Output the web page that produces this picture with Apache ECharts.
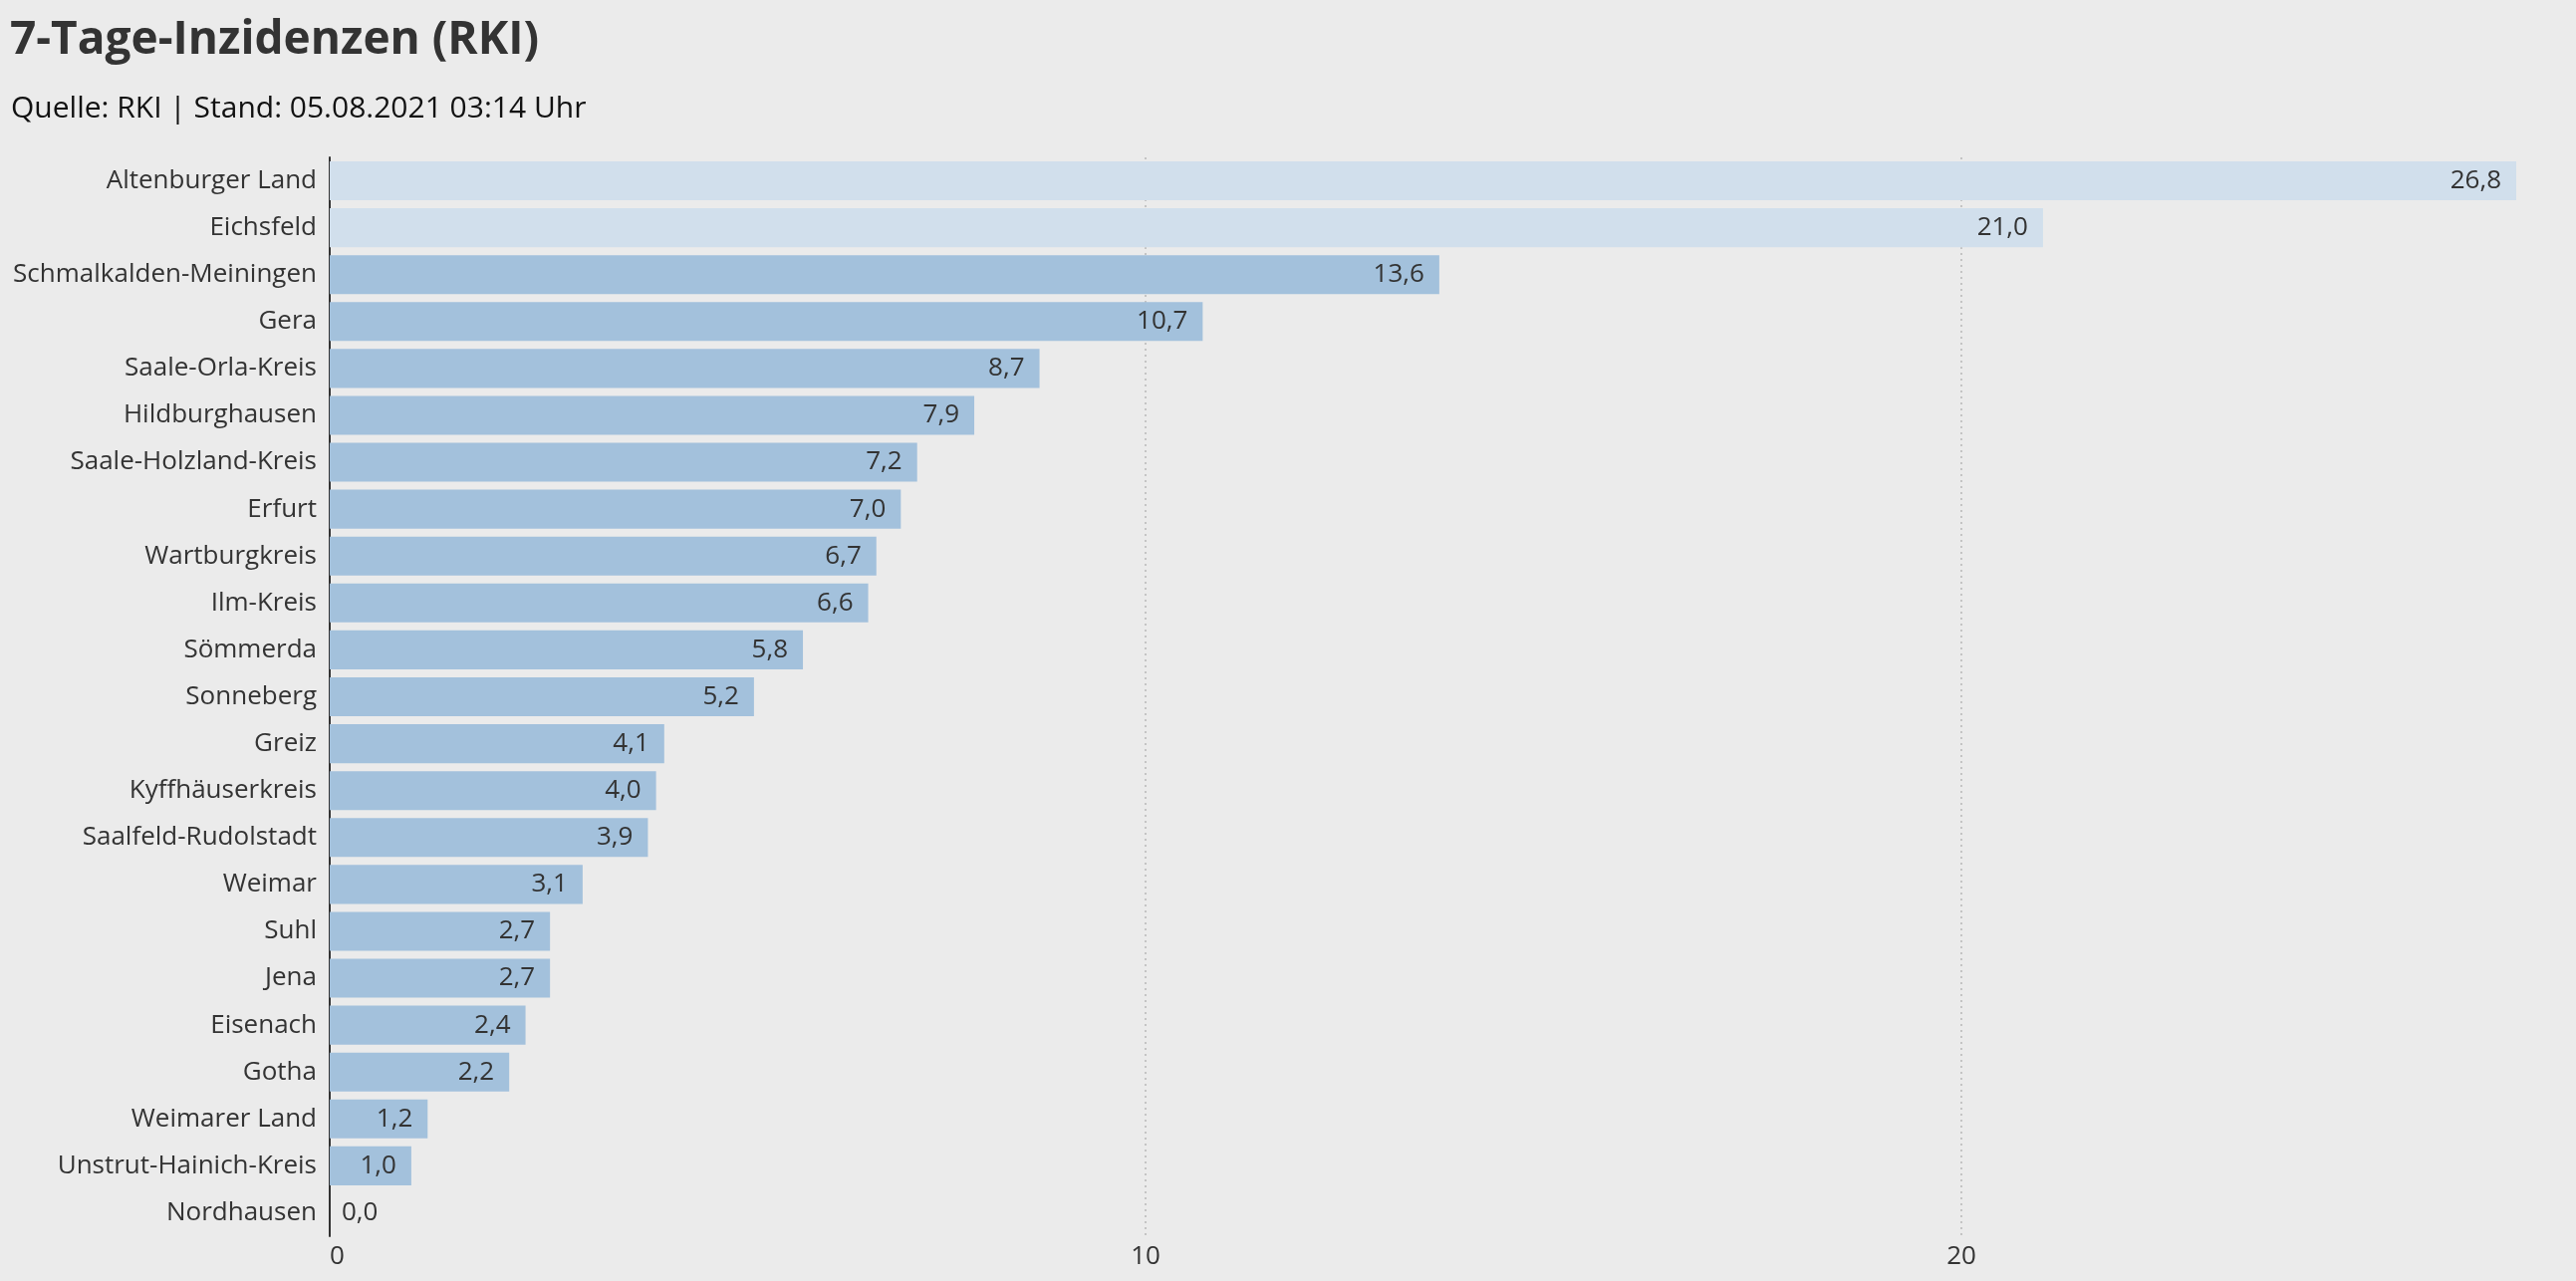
<!DOCTYPE html>
<html>
<head>
<meta charset="utf-8">
<style>
  html, body { margin: 0; padding: 0; background: #ebebeb; }
  #main { width: 2586px; height: 1286px; }
</style>
<script src="https://cdn.jsdelivr.net/npm/echarts@6/dist/echarts.min.js"></script>
</head>
<body>
<div id="main"></div>
<script>
// Landkreise / kreisfreie Städte, sortiert nach Inzidenz
const kreise = ['Altenburger Land', 'Eichsfeld', 'Schmalkalden-Meiningen', 'Gera', 'Saale-Orla-Kreis',
  'Hildburghausen', 'Saale-Holzland-Kreis', 'Erfurt', 'Wartburgkreis', 'Ilm-Kreis', 'Sömmerda',
  'Sonneberg', 'Greiz', 'Kyffhäuserkreis', 'Saalfeld-Rudolstadt', 'Weimar', 'Suhl', 'Jena',
  'Eisenach', 'Gotha', 'Weimarer Land', 'Unstrut-Hainich-Kreis', 'Nordhausen']
const inzidenz = [26.8, 21.0, 13.6, 10.7, 8.7, 7.9, 7.2, 7.0, 6.7, 6.6, 5.8,
  5.2, 4.1, 4.0, 3.9, 3.1, 2.7, 2.7, 2.4, 2.2, 1.2, 1.0, 0.0]
const xTicks = [0, 10, 20]

const font = 'Open Sans'
const fmt = v => v.toFixed(1).replace('.', ',')

let myChart = echarts.init(document.getElementById('main'))

// Balken mit 0 bekommen das Label rechts neben der Achse
let data = inzidenz.map(v => v === 0
  ? { value: v, label: { position: 'right', distance: 12 } }
  : v)

let option = {
  backgroundColor: '#ebebeb',
  animation: false,
  title: [
    {
      text: '7-Tage-Inzidenzen (RKI)',
      left: 5, top: 13,
      textStyle: { fontFamily: font, fontWeight: 'bold', fontSize: 46, color: '#333' }
    },
    {
      text: 'Quelle: RKI | Stand: 05.08.2021 03:14 Uhr',
      left: 6, top: 89,
      textStyle: { fontFamily: font, fontWeight: 'normal', fontSize: 30, color: '#111' }
    }
  ],
  grid: { left: 331, right: 60, top: 158, bottom: 45 },
  xAxis: {
    type: 'value',
    min: 0,
    max: 26.8,
    interval: 10,
    axisLine: { show: false },
    axisTick: { show: false },
    splitLine: { show: false },
    axisLabel: {
      fontFamily: font, fontSize: 26, color: '#333', margin: 8,
      alignMinLabel: 'left',
      showMaxLabel: false,
      formatter: v => xTicks.includes(v) ? String(v) : ''
    }
  },
  yAxis: {
    type: 'category',
    data: kreise,
    inverse: true,
    axisLine: { show: true, lineStyle: { color: '#333', width: 2 } },
    axisTick: { show: false },
    axisLabel: { fontFamily: font, fontSize: 26, color: '#333', margin: 13, padding: [5, 0, 0, 0] }
  },
  series: [
    {
      type: 'bar',
      data: data,
      barCategoryGap: '17%',
      itemStyle: {
        color: p => p.value > 20 ? '#d1dfec' : '#a3c1dc'
      },
      label: {
        show: true,
        position: 'insideRight',
        distance: 15,
        fontFamily: font,
        fontSize: 26,
        color: '#333',
        padding: [4, 0, 0, 0],
        formatter: p => fmt(p.value)
      },
      markLine: {
        silent: true,
        symbol: 'none',
        label: { show: false },
        z: 1,
        lineStyle: { color: '#c4c4c4', width: 2, type: [2, 4] },
        data: xTicks.filter(t => t > 0).map(t => ({ xAxis: t }))
      }
    }
  ]
}

myChart.setOption(option)
</script>
</body>
</html>
